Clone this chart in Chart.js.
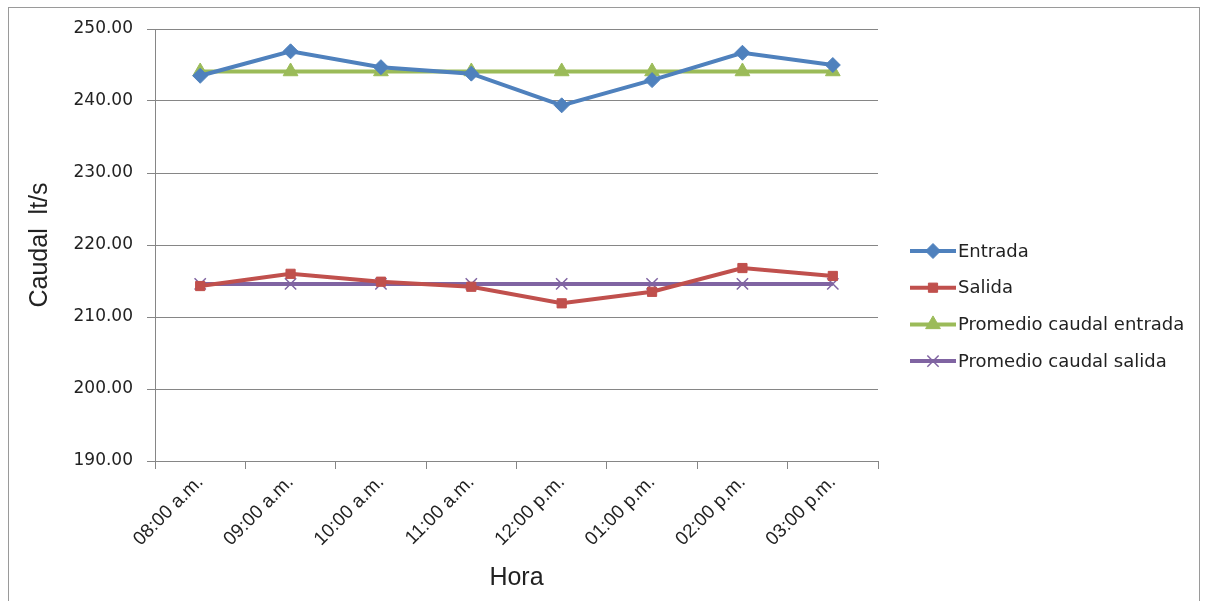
<!DOCTYPE html>
<html>
<head>
<meta charset="utf-8">
<script src="https://cdn.jsdelivr.net/npm/chart.js@4"></script>
<style>
  html, body { margin: 0; padding: 0; background: #fff; }
  #wrap { position: relative; width: 1208px; height: 601px; }
</style>
</head>
<body>
<div id="wrap"><canvas id="caudalChart"></canvas></div>
<script>
// --- Data ---
const horas = ['08:00 a.m.', '09:00 a.m.', '10:00 a.m.', '11:00 a.m.', '12:00 p.m.', '01:00 p.m.', '02:00 p.m.', '03:00 p.m.'];
const entrada = [243.5, 246.9, 244.7, 243.8, 239.4, 242.9, 246.7, 245.0];
const salida = [214.3, 216.0, 214.9, 214.2, 211.9, 213.5, 216.8, 215.7];
const promedioEntrada = [244.1, 244.1, 244.1, 244.1, 244.1, 244.1, 244.1, 244.1];
const promedioSalida = [214.6, 214.6, 214.6, 214.6, 214.6, 214.6, 214.6, 214.6];

const colors = {
  blue: '#4F81BD',
  red: '#C0504D',
  green: '#9BBB59',
  purple: '#8064A2',
  axis: '#868686',
  text: '#222222'
};

// Outer frame around the chart
const framePlugin = {
  id: 'frame',
  beforeDraw(chart) {
    const ctx = chart.ctx;
    ctx.save();
    ctx.strokeStyle = '#9A9A9A';
    ctx.lineWidth = 1;
    ctx.strokeRect(8.5, 7.5, 1191, 620);
    ctx.restore();
  }
};

// Legend on the right: line segment with marker, then label
const sideLegend = {
  id: 'sideLegend',
  afterDraw(chart) {
    const ctx = chart.ctx;
    const x0 = 910, lineLen = 46, top = 251, step = 36.7;
    ctx.save();
    chart.data.datasets.forEach((ds, i) => {
      const y = top + i * step;
      ctx.strokeStyle = ds.borderColor;
      ctx.lineWidth = 4;
      ctx.beginPath();
      ctx.moveTo(x0, y);
      ctx.lineTo(x0 + lineLen, y);
      ctx.stroke();
      ctx.fillStyle = ds.pointBackgroundColor;
      ctx.strokeStyle = ds.pointBorderColor;
      ctx.lineWidth = ds.pointBorderWidth;
      Chart.helpers.drawPoint(ctx, {
        pointStyle: ds.pointStyle,
        radius: ds.pointRadius,
        rotation: 0,
        borderWidth: ds.pointBorderWidth
      }, x0 + lineLen / 2, y);
      ctx.fillStyle = colors.text;
      ctx.font = '18px "DejaVu Sans"';
      ctx.textAlign = 'left';
      ctx.textBaseline = 'middle';
      ctx.fillText(ds.label, x0 + lineLen + 2, y + 1);
    });
    ctx.restore();
  }
};

function series(label, data, color, style, radius, borderW) {
  return {
    label: label,
    data: data,
    borderColor: color,
    backgroundColor: color,
    borderWidth: 4,
    pointStyle: style,
    pointRadius: radius,
    pointHoverRadius: radius,
    pointBackgroundColor: color,
    pointBorderColor: color,
    pointBorderWidth: borderW,
    tension: 0
  };
}

new Chart(document.getElementById('caudalChart'), {
  type: 'line',
  data: {
    labels: horas,
    datasets: [
      series('Entrada', entrada, colors.blue, 'rectRot', 7.5, 1),
      series('Salida', salida, colors.red, 'rect', 6.5, 1),
      series('Promedio caudal entrada', promedioEntrada, colors.green, 'triangle', 8.5, 1),
      series('Promedio caudal salida', promedioSalida, colors.purple, 'crossRot', 8, 1.5)
    ]
  },
  options: {
    responsive: true,
    maintainAspectRatio: false,
    animation: false,
    layout: { padding: { left: 0, top: 29, right: 330, bottom: 0 } },
    plugins: {
      legend: { display: false },
      tooltip: { enabled: false }
    },
    scales: {
      x: {
        offset: true,
        afterFit(scale) { scale.height = 140; },
        grid: { offset: true, drawOnChartArea: false, tickLength: 8, color: colors.axis },
        border: { color: colors.axis, width: 1 },
        ticks: {
          color: colors.text,
          font: { family: '"Liberation Sans", Arial', size: 19 },
          minRotation: 45,
          maxRotation: 45,
          padding: 2
        },
        title: {
          display: true,
          text: 'Hora',
          color: colors.text,
          font: { family: '"Liberation Sans", Arial', size: 25 },
          padding: { top: 0, bottom: 8 }
        }
      },
      y: {
        min: 190,
        max: 250,
        afterFit(scale) { scale.width = 155; },
        grid: { color: colors.axis, tickLength: 8 },
        border: { color: colors.axis, width: 1 },
        ticks: {
          stepSize: 10,
          color: colors.text,
          padding: 14,
          font: { family: '"DejaVu Sans"', size: 17 },
          callback: v => v.toFixed(2)
        },
        title: {
          display: true,
          text: 'Caudal  lt/s',
          color: colors.text,
          font: { family: '"Liberation Sans", Arial', size: 25 },
          padding: { top: 25, bottom: 0 }
        }
      }
    }
  },
  plugins: [framePlugin, sideLegend]
});
</script>
</body>
</html>
